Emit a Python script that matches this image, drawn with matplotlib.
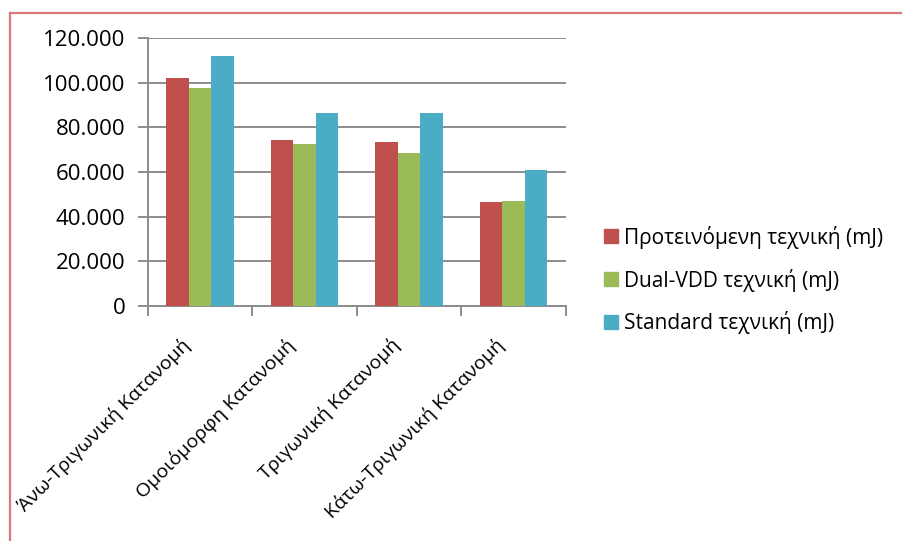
import matplotlib
matplotlib.use("Agg")
import matplotlib.pyplot as plt
import numpy as np
from matplotlib.ticker import FuncFormatter, MultipleLocator
from matplotlib.patches import Rectangle
from matplotlib.lines import Line2D
from matplotlib.transforms import ScaledTranslation

plt.rcParams['font.family'] = ['Open Sans', 'DejaVu Sans']

categories = ["Άνω-Τριγωνική Κατανομή", "Ομοιόμορφη Κατανομή",
              "Τριγωνική Κατανομή", "Κάτω-Τριγωνική Κατανομή"]
series_names = ["Προτεινόμενη τεχνική (mJ)", "Dual-VDD τεχνική (mJ)",
                "Standard τεχνική (mJ)"]
proposed = [102300, 74200, 73500, 46400]
dual_vdd = [97600, 72700, 68500, 47100]
standard = [112100, 86600, 86600, 61000]
colors = ["#C0504D", "#9BBB59", "#4BACC6"]

fig = plt.figure(figsize=(9.03, 5.41), dpi=100)
ax = fig.add_axes([147.7 / 903, 1 - 305.7 / 541, (566 - 147.7) / 903, (305.7 - 38.3) / 541])

x = np.arange(len(categories))
w = 0.215
for i, (vals, c) in enumerate(zip([proposed, dual_vdd, standard], colors)):
    ax.bar(x + (i - 1) * w, vals, width=w, color=c, label=series_names[i], zorder=3)

ax.set_xlim(-0.5, len(categories) - 0.5)
ax.set_ylim(0, 120000)
ax.yaxis.set_major_locator(MultipleLocator(20000))
ax.yaxis.set_major_formatter(FuncFormatter(lambda v, p: f"{v:,.0f}".replace(",", ".")))
ax.grid(axis='y', color='#8C8C8C', linewidth=1.4, zorder=0)
ax.set_axisbelow(True)

for s in ['top', 'right']:
    ax.spines[s].set_visible(False)
for s in ['left', 'bottom']:
    ax.spines[s].set_color('#8C8C8C')
    ax.spines[s].set_linewidth(1.4)

ax.tick_params(axis='y', length=7, width=1.4, color='#8C8C8C', labelsize=16, pad=9)
ax.set_xticks(np.arange(len(categories) + 1) - 0.5)
ax.set_xticklabels([])
ax.tick_params(axis='x', length=7, width=1.4, color='#8C8C8C')
ax.set_xticks(x, minor=True)
ax.set_xticklabels(categories, minor=True, rotation=45, ha='right', va='top',
                   rotation_mode='anchor', fontsize=14)
ax.tick_params(axis='x', which='minor', length=0, pad=12)
shift = ScaledTranslation(-0.19, -0.13, fig.dpi_scale_trans)
for lbl in ax.get_xticklabels(minor=True):
    lbl.set_transform(lbl.get_transform() + shift)

handles = [Rectangle((0, 0), 1, 1, color=c) for c in colors]
fig.legend(handles, series_names, loc='center left', bbox_to_anchor=(596 / 903, 1 - 280 / 541),
           frameon=False, fontsize=15, handlelength=0.65, handleheight=0.65,
           handletextpad=0.3, labelspacing=0.95, borderaxespad=0)

# outer chart frame
fig.add_artist(Line2D([10.5 / 903, 901 / 903], [1 - 12.5 / 541, 1 - 12.5 / 541],
                      transform=fig.transFigure, color='#D9797B', linewidth=1.6))
fig.add_artist(Line2D([10.5 / 903, 10.5 / 903], [1 - 12.5 / 541, 0],
                      transform=fig.transFigure, color='#D9797B', linewidth=1.6))

fig.savefig("out.png", dpi=100)
